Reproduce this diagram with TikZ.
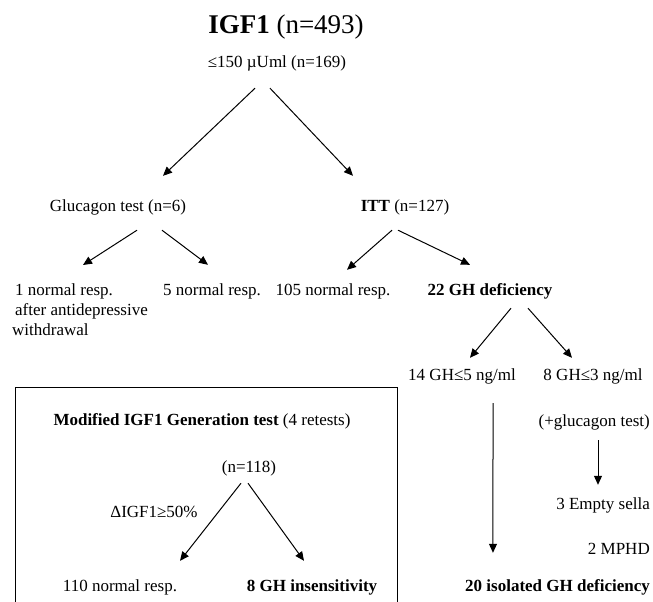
\documentclass[tikz,border=0pt]{standalone}
\usepackage{fontspec}
\setmainfont{Liberation Serif}
\usetikzlibrary{arrows.meta}
\begin{document}
\begin{tikzpicture}[x=1pt, y=-1pt,
  lbl/.style={inner sep=0pt, font=\fontsize{17}{20}\selectfont, text height=12pt, text depth=4pt},
  arr/.style={-{Triangle[length=9pt, width=8pt]}, line width=1pt}]
\useasboundingbox (0,0) rectangle (653,602);
\node[inner sep=0pt, font=\fontsize{27}{30}\selectfont] (n0) at (286,27){\textbf{IGF1} (n=493)};
\node[lbl] (n1) at (277,63){≤150 µUml (n=169)};
\node[lbl] (n2) at (118,207){Glucagon test (n=6)};
\node[lbl] (n3) at (405,207){\textbf{ITT} (n=127)};
\node[inner sep=0pt, font=\fontsize{17}{20}\selectfont, align=left, anchor=north west] (n4) at (12,284){\hspace{3pt}1 normal resp.\\\hspace{3pt}after antidepressive\\withdrawal};
\node[lbl] (n5) at (212,291){5 normal resp.};
\node[lbl] (n6) at (333,291){105 normal resp.};
\node[lbl] (n7) at (490,291){\textbf{22 GH deficiency}};
\node[lbl] (n8) at (462,376){14 GH≤5 ng/ml};
\node[lbl] (n9) at (593,376){8 GH≤3 ng/ml};
\node[lbl, anchor=east] (n10) at (650,422){(+glucagon test)};
\node[lbl, anchor=east] (n11) at (650,505){3 Empty sella};
\node[lbl, anchor=east] (n12) at (650,550){2 MPHD};
\node[lbl, anchor=east] (n13) at (650,587){\textbf{20 isolated GH deficiency}};
\draw[line width=1pt] (15,602) -- (15,387) -- (397,387) -- (397,602);
\node[lbl] (n14) at (202,421){\textbf{Modified IGF1 Generation test} (4 retests)};
\node[lbl] (n15) at (249,468){(n=118)};
\node[lbl] (n16) at (154,513){ΔIGF1≥50\%};
\node[lbl] (n17) at (120,587){110 normal resp.};
\node[lbl] (n18) at (312,587){\textbf{8 GH insensitivity}};
\draw[arr] ([shift={(-22,17)}]n1.south) -- ([shift={(45,-23)}]n2.north);
\draw[arr] ([shift={(-7,17)}]n1.south) -- ([shift={(-52,-23)}]n3.north);
\draw[arr] ([shift={(19,15)}]n2.south) -- ([shift={(71,-19)}]n4.north west);
\draw[arr] ([shift={(44,15)}]n2.south) -- ([shift={(-4,-18)}]n5.north);
\draw[arr] ([shift={(-13,15)}]n3.south) -- ([shift={(14,-13)}]n6.north);
\draw[arr] ([shift={(-7,15)}]n3.south) -- ([shift={(-20,-18)}]n7.north);
\draw[arr] ([shift={(21,9)}]n7.south) -- ([shift={(8,-10)}]n8.north);
\draw[arr] ([shift={(38,9)}]n7.south) -- ([shift={(-21,-10)}]n9.north);
\draw[arr] ([shift={(31,19)}]n8.south) -- ([shift={(28,-26)}]n13.north west);
\draw[arr] ([shift={(-52,10)}]n10.south east) -- ([shift={(-52,-12)}]n11.north east);
\draw[arr] ([shift={(-8,7)}]n15.south) -- ([shift={(60,-18)}]n17.north);
\draw[arr] ([shift={(-1,7)}]n15.south) -- ([shift={(-8,-18)}]n18.north);
\end{tikzpicture}
\end{document}
